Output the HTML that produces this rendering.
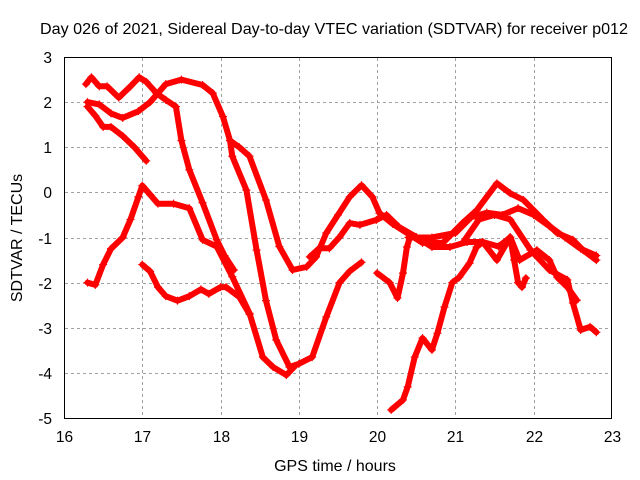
<!DOCTYPE html>
<html><head><meta charset="utf-8"><style>
body{margin:0;background:#fff}
svg{display:block;font-family:"Liberation Sans",sans-serif}
</style></head><body>
<svg id="chart" width="640" height="480">
<rect width="640" height="480" fill="#fff"/>
<text x="334" y="34" text-anchor="middle" font-size="16" textLength="588" lengthAdjust="spacingAndGlyphs">Day 026 of 2021, Sidereal Day-to-day VTEC variation (SDTVAR) for receiver p012</text>
<g id="grid"></g>
<g id="ticks"></g>
<g id="series"></g>
<rect x="64.5" y="57.5" width="547" height="361" fill="none" stroke="#000"/>
<text x="335" y="471" text-anchor="middle" font-size="16">GPS time / hours</text>
<text transform="translate(22,238) rotate(-90)" text-anchor="middle" font-size="16">SDTVAR / TECUs</text>
</svg>
<script>
const xTicks=[16,17,18,19,20,21,22,23];
const yTicks=[-5,-4,-3,-2,-1,0,1,2,3];
const sA_t=[16.28,16.35,16.45,16.55,16.7,16.85,16.96,17.05,17.18,17.3,17.43,17.5,17.6,17.77,17.95,18.05,18.17];
const sA_v=[2.4,2.55,2.35,2.35,2.1,2.35,2.55,2.45,2.2,2.05,1.9,1.15,0.5,-0.23,-1.05,-1.4,-1.72];
const sB_t=[16.3,16.45,16.6,16.75,16.95,17.1,17.3,17.5,17.77,17.9,18.03,18.12,18.24,18.37,18.58,18.75,18.92,19.1,19.22,19.35,19.5,19.65,19.8,19.94,20.03];
const sB_v=[2.0,1.95,1.75,1.65,1.8,2.0,2.4,2.5,2.38,2.2,1.68,1.15,1.0,0.8,-0.17,-1.2,-1.72,-1.65,-1.43,-0.9,-0.5,-0.1,0.16,-0.1,-0.46];
const sB2_t=[18.12,18.15,18.33,18.46,18.58,18.71,18.88,19.0,19.17,19.35,19.52,19.65,19.8];
const sB2_v=[1.15,0.8,0.05,-1.28,-2.4,-3.27,-3.87,-3.8,-3.65,-2.76,-2.0,-1.75,-1.55];
const sC_t=[16.3,16.4,16.5,16.6,16.75,16.9,17.05];
const sC_v=[1.9,1.7,1.45,1.45,1.25,1.0,0.7];
const sD_t=[16.3,16.4,16.5,16.6,16.75,16.85,16.95,17.0,17.1,17.2,17.4,17.6,17.77,17.95,18.15,18.37,18.54,18.67,18.84,18.95];
const sD_v=[-2.0,-2.05,-1.6,-1.25,-1.0,-0.6,-0.1,0.15,-0.05,-0.25,-0.25,-0.35,-1.05,-1.2,-1.87,-2.68,-3.65,-3.87,-4.05,-3.85];
const sE_t=[17.0,17.1,17.2,17.3,17.45,17.6,17.75,17.85,18.0,18.07,18.24,18.37];
const sE_v=[-1.6,-1.75,-2.1,-2.3,-2.4,-2.3,-2.15,-2.25,-2.1,-2.1,-2.32,-2.7];
const sF_t=[20.03,20.2,20.38,20.58,20.84,21.09,21.27,21.53,21.7,21.87,22.12,22.3,22.5,22.63,22.8];
const sF_v=[-0.46,-0.7,-0.9,-1.12,-1.12,-0.68,-0.4,0.2,-0.02,-0.17,-0.61,-0.9,-1.05,-1.28,-1.5];
const sG_t=[19.14,19.26,19.39,19.52,19.65,19.78,19.99,20.12,20.28,20.5,20.7,20.93,21.15,21.35,21.53,21.7,21.82,22.04,22.2,22.3,22.43,22.55];
const sG_v=[-1.43,-1.24,-1.24,-0.99,-0.68,-0.72,-0.61,-0.5,-0.77,-0.99,-1.21,-1.21,-1.1,-1.1,-1.5,-0.99,-1.5,-1.28,-1.5,-1.88,-2.1,-2.39];
const sH_t=[20.0,20.16,20.26,20.33,20.38,20.42];
const sH_v=[-1.79,-2.0,-2.34,-1.79,-1.21,-0.99];
const sI_t=[20.18,20.33,20.39,20.48,20.58,20.7,20.77,20.86,20.96,21.05,21.18,21.27,21.35,21.55,21.7,21.75,21.8,21.85,21.9];
const sI_v=[-4.82,-4.6,-4.31,-3.65,-3.23,-3.49,-3.12,-2.54,-2.0,-1.88,-1.57,-1.21,-1.1,-1.2,-1.0,-1.5,-2.0,-2.1,-1.9];
const sJ_t=[20.4,20.7,21.0,21.2,21.4,21.6,21.8,22.0,22.2,22.4,22.6,22.8];
const sJ_v=[-1.0,-1.0,-0.9,-0.55,-0.45,-0.5,-0.35,-0.5,-0.75,-1.0,-1.25,-1.4];
const sL_t=[21.1,21.3,21.5,21.7,21.96,22.2,22.43,22.5,22.6,22.72,22.8];
const sL_v=[-1.1,-0.6,-0.5,-0.6,-1.28,-1.72,-1.94,-2.45,-3.05,-2.98,-3.1];

const NS='http://www.w3.org/2000/svg';
const X=h=>64+(h-16)*(548/7);
const Y=v=>57+(3-v)*(361/8);
const grid=document.getElementById('grid'),ticks=document.getElementById('ticks'),ser=document.getElementById('series');
function mk(tag,attrs,parent){const e=document.createElementNS(NS,tag);for(const k in attrs)e.setAttribute(k,attrs[k]);parent.appendChild(e);return e;}
xTicks.forEach(t=>{
  const x=Math.round(X(t))+0.5;
  if(t>16&&t<23){const g=mk('line',{x1:x,x2:x,y1:58,y2:418,stroke:'#a0a0a0','stroke-dasharray':'3,3'},grid);
  
  }
  const l=mk('text',{x:x,y:442,'text-anchor':'middle','font-size':15.5},ticks);
  l.textContent=t;
  
  
});
yTicks.forEach(t=>{
  const y=Math.round(Y(t))+0.5;
  if(t>-5&&t<3){const g=mk('line',{x1:65,x2:611,y1:y,y2:y,stroke:'#a0a0a0','stroke-dasharray':'3,3'},grid);
  
  }
  const l=mk('text',{x:52,y:y+5.5,'text-anchor':'end','font-size':15.5},ticks);
  l.textContent=t;
  
  
});
const all=[[sA_t,sA_v,'a'],[sB_t,sB_v,'b'],[sB2_t,sB2_v,'b2'],[sC_t,sC_v,'c'],[sD_t,sD_v,'d'],[sE_t,sE_v,'e'],[sF_t,sF_v,'f'],[sG_t,sG_v,'g'],[sH_t,sH_v,'h'],[sI_t,sI_v,'i'],[sJ_t,sJ_v,'j'],[sL_t,sL_v,'l']];
all.forEach(([ts,vs,n])=>{
  const pts=ts.map((t,i)=>X(t).toFixed(1)+','+Y(vs[i]).toFixed(1)).join(' ');
  const p=mk('polyline',{points:pts,fill:'none',stroke:'#ff0000','stroke-width':6,'stroke-linejoin':'round','stroke-linecap':'round'},ser);
  
  
  ts.forEach((t,i)=>{
    const x=X(t),y=Y(vs[i]);
    const m=mk('path',{d:`M${x-4},${y}H${x+4}M${x},${y-4}V${y+4}`,stroke:'#ff0000','stroke-width':1.2},ser);
    
    
  });
});
</script>
</body></html>
